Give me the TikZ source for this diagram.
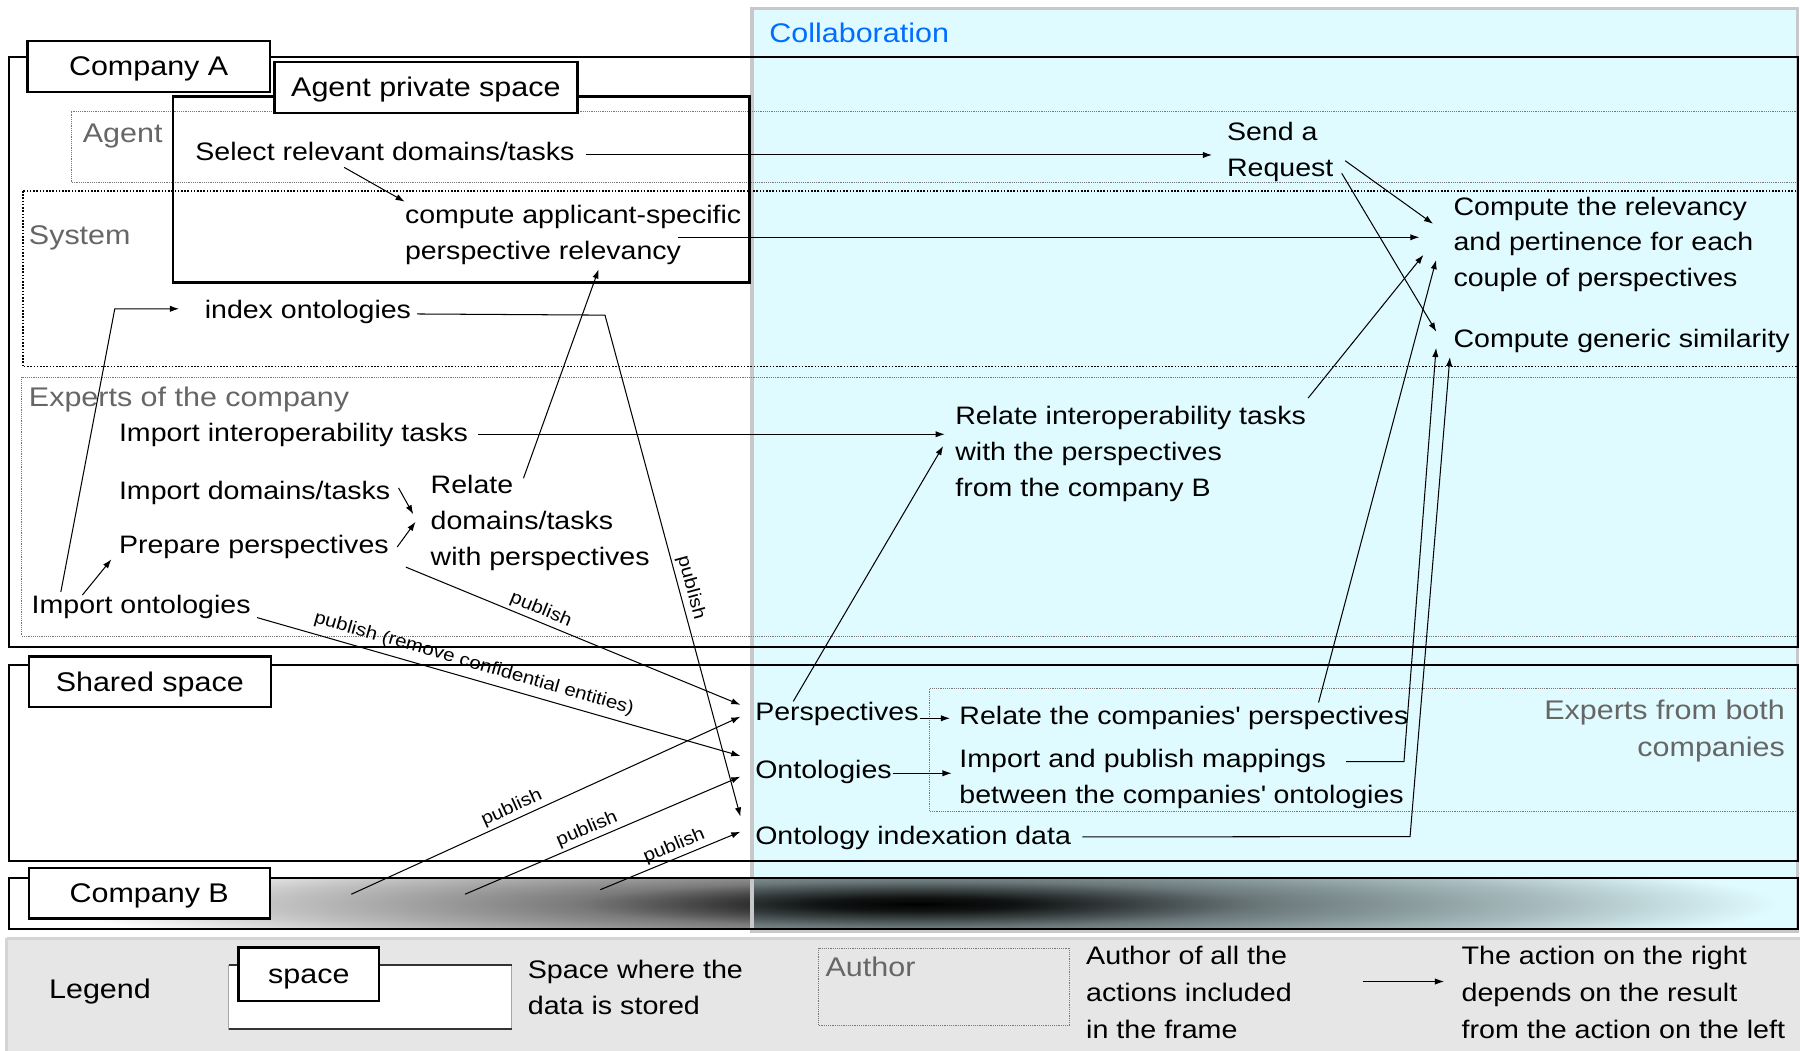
\documentclass[tikz,border=0pt]{standalone}
\usepackage{fontspec}
\setmainfont{Liberation Sans}[FakeStretch=1.13]
\usetikzlibrary{arrows.meta,calc}
\definecolor{collabfill}{RGB}{224,251,255}
\definecolor{collabedge}{RGB}{200,200,200}
\definecolor{labgray}{RGB}{102,102,102}
\definecolor{collabblue}{RGB}{0,110,255}
\definecolor{legfill}{RGB}{230,230,230}
\definecolor{legedge}{RGB}{212,212,212}
\definecolor{dotgray}{RGB}{120,120,120}
\pgfdeclareradialshading{blobW}{\pgfpointorigin}{color(0bp)=(black); color(3bp)=(black!92!white); color(6bp)=(black!75!white); color(10bp)=(black!52!white); color(18.6bp)=(black!24!white); color(25bp)=(white); color(50bp)=(white)}
\pgfdeclareradialshading{blobC}{\pgfpointorigin}{color(0bp)=(black); color(3bp)=(black!92!collabfill); color(6bp)=(black!75!collabfill); color(10bp)=(black!52!collabfill); color(18.6bp)=(black!24!collabfill); color(25bp)=(collabfill); color(50bp)=(collabfill)}
\newcommand\actfont{\fontsize{22}{31.3}\selectfont}
\newcommand\labfont{\fontsize{23.5}{32.4}\selectfont}
\newcommand\pubfont{\fontsize{15.75}{18}\selectfont}
\newcommand\legfont{\fontsize{22.1}{32}\selectfont}
\newcommand\ml[1]{\begin{tabular}[t]{@{}l@{}}#1\end{tabular}}
\newcommand\mr[1]{\begin{tabular}[t]{@{}r@{}}#1\end{tabular}}
\newcommand\sq{\XeTeXglyph\XeTeXcharglyph"0027\relax}
\begin{document}
\begin{tikzpicture}[x=1pt,y=-1pt,
  act/.style={anchor=base west, inner sep=0pt, font=\actfont},
  graylab/.style={anchor=base west, inner sep=0pt, font=\labfont, text=labgray},
  labbox/.style={draw, line width=2pt, fill=white, font=\labfont, inner sep=0pt, text height=16pt, text depth=0pt},
  frm/.style={draw, line width=1.6pt},
  lanefine/.style={draw=dotgray, line width=0.8pt, dash pattern=on 0.8pt off 0.8pt},
  lanesys/.style={draw=black, line width=1.4pt, dash pattern=on 1.4pt off 1.4pt},
  conn/.style={line width=0.9pt},
  arr/.style={conn, -{Latex[length=8pt,width=5.5pt]}},
  pub/.style={font=\pubfont, sloped, above, inner sep=2.5pt},
]
\useasboundingbox (0,0) rectangle (1568,915);
\fill[white] (0,0) rectangle (1568,915);
% collaboration area
\fill[collabfill] (655,7.3) rectangle (1566,811);
% gradient blob in Company B band
\begin{scope}
\clip (8,765) rectangle (655,809.5);
\shade[shading=blobW] (50,737.5) rectangle (1550,837.5);
\end{scope}
\begin{scope}
\clip (655,765) rectangle (1566,809.5);
\shade[shading=blobC] (50,737.5) rectangle (1550,837.5);
\end{scope}
\draw[collabedge, line width=3pt] (655,7.3) rectangle (1566,811);
% lanes
\draw[lanefine] (62,97.3) rectangle (1566,159.1);
\draw[lanesys] (19.8,166.4) rectangle (1566,319.4);
\draw[lanefine] (19,328.7) rectangle (1566,554);
\draw[lanefine] (810,600) rectangle (1566,707);
% frames
\draw[frm] (7.6,49.4) rectangle (1566,563.6);
\draw[frm] (7.6,579) rectangle (1566,749.7);
\draw[frm] (7.6,765) rectangle (1566,809.5);
\draw[line width=2.2pt] (150.7,84.2) rectangle (653,246.2);
% label boxes
\node[labbox, minimum width=211pt, minimum height=44.5pt] (compA) at (129.5,57.7) {Company A};
\node[labbox, minimum width=264pt, minimum height=44.5pt] (aps) at (371,76) {Agent private space};
\node[labbox, minimum width=211pt, minimum height=44pt] (shared) at (130.5,594) {Shared space};
\node[labbox, minimum width=210pt, minimum height=43.6pt] (compB) at (130,778.2) {Company B};
% lane labels
\node[graylab] (agentL) at (72,124.3) {Agent};
\node[graylab] (sysL) at (25,213.4) {System};
\node[graylab] (expL) at (25,354.2) {Experts of the company};
\node[graylab, anchor=base east] (bothL) at (1555,626.6) {\mr{Experts from both\\companies}};
\node[graylab, text=collabblue] (collabL) at (670,37.2) {Collaboration};
% actions
\node[act] (sel) at (170,139.4) {Select relevant domains/tasks};
\node[act] (comp) at (352.6,195) {\ml{compute applicant-specific\\perspective relevancy}};
\node[act] (idx) at (178.2,277.3) {index ontologies};
\node[act] (req) at (1068.7,122.5) {\ml{Send a\\Request}};
\node[act] (crel) at (1266,187.3) {\ml{Compute the relevancy\\and pertinence for each\\couple of perspectives}};
\node[act] (sim) at (1266,303) {Compute generic similarity};
\node[act] (impint) at (103.5,384.7) {Import interoperability tasks};
\node[act] (impd) at (103.5,435.5) {Import domains/tasks};
\node[act] (prep) at (103.5,482) {Prepare perspectives};
\node[act] (impo) at (27.4,534.8) {Import ontologies};
\node[act] (rel) at (375,430.3) {\ml{Relate\\domains/tasks\\with perspectives}};
\node[act] (relint) at (832,369.8) {\ml{Relate interoperability tasks\\with the perspectives\\from the company B}};
\node[act] (persp) at (657.7,627.7) {Perspectives};
\node[act] (onto) at (657.7,678.5) {Ontologies};
\node[act] (oidx) at (657.7,736) {Ontology indexation data};
\node[act] (relcomp) at (835.6,631) {Relate the companies\sq\ perspectives};
\node[act] (imppub) at (835.6,669) {\ml{Import and publish mappings\\between the companies\sq\ ontologies}};
% connectors
\draw[arr] ($(sel.base east)+(9.4,-4.4)$) -- ($(req.base west)+(-12.9,12.5)$);
\draw[arr] ($(sel.base west)+(129.8,6.4)$) -- ($(comp.base west)+(0,-19.3)$);
\draw[arr] ($(comp.base west)+(238.4,11.7)$) -- ($(crel.base west)+(-29.5,19.4)$);
\draw[arr] ($(req.base west)+(103.1,17.5)$) -- ($(crel.base west)+(-17.6,7.7)$);
\draw[arr] ($(req.base west)+(100.1,28.5)$) -- ($(sim.base west)+(-14.8,-14)$);
\draw[arr] ($(idx.base east)+(5,-3.8)$) -- ($(idx.base west)+(348.8,-2.8)$) -- node[pub, pos=0.55] {publish} ($(oidx.base west)+(-12.7,-24.6)$);
\draw[arr] ($(impo.base west)+(25.6,-19.2)$) -- ($(idx.base west)+(-78.2,-8.3)$) -- ($(idx.base west)+(-22.2,-8.3)$);
\draw[arr] ($(impo.base west)+(44.4,-16.5)$) -- ($(prep.base west)+(-6.4,5.2)$);
\draw[arr] ($(impd.base east)+(7,-10.5)$) -- ($(rel.base west)+(-15,17.7)$);
\draw[arr] ($(prep.base east)+(7.2,-5.5)$) -- ($(rel.base west)+(-13,24.2)$);
\draw[arr] ($(rel.base west)+(81,-13.7)$) -- ($(comp.base west)+(168.9,39.6)$);
\draw[arr] ($(prep.base east)+(14.7,12)$) -- node[pub, pos=0.39] {publish} ($(persp.base west)+(-12.7,-13.7)$);
\draw[arr] ($(impo.base east)+(5.5,3.2)$) -- node[pub, pos=0.44, above=3pt] {publish (remove confidential entities)} ($(onto.base west)+(-12.7,-20)$);
\coordinate (b1) at (306,779);
\coordinate (b2) at (405,779);
\coordinate (b3) at (523,775);
\draw[arr] (b1) -- node[pub, pos=0.425] {publish} ($(persp.base west)+(-12.7,-3.4)$);
\draw[arr] (b2) -- node[pub, pos=0.46] {publish} ($(onto.base west)+(-12.7,-2)$);
\draw[arr] (b3) -- node[pub, pos=0.56] {publish} ($(oidx.base west)+(-12.7,-11.5)$);
\draw[arr] ($(persp.base west)+(33.3,-16.7)$) -- ($(relint.base west)+(-10.4,18.7)$);
\draw[arr] ($(impint.base east)+(8.5,-6.4)$) -- ($(relint.base west)+(-9,8.5)$);
\draw[arr] ($(relint.base west)+(307.5,-23)$) -- ($(crel.base west)+(-26,34.7)$);
\draw[arr] ($(relcomp.base west)+(313,-19)$) -- ($(crel.base west)+(-15,39.2)$);
\draw[arr] ($(imppub.base west)+(336.9,-5.5)$) -- ($(imppub.base west)+(387.4,-5.5)$) -- ($(sim.base west)+(-15,0)$);
\draw[arr] ($(oidx.base east)+(9.8,-7)$) -- ($(oidx.base west)+(570.6,-7.2)$) -- ($(sim.base west)+(-3,8)$);
\draw[arr] ($(persp.base east)+(1,-2)$) -- ($(relcomp.base west)+(-8,-5.3)$);
\draw[arr] ($(onto.base east)+(1,-4.9)$) -- ($(imppub.base west)+(-6.6,4.6)$);
% legend
\fill[legfill] (6,817.5) rectangle (1568,917);
\draw[legedge, line width=2.5pt] (6,817.5) -- (1568,817.5);
\draw[legedge, line width=2.5pt] (6,917) -- (6,817.5);
\draw[fill=white, draw=gray!70] (199.2,840.6) rectangle (445.6,896.4);
\draw[line width=1.2pt, draw=black!80] (199.2,840.6) -- (445.6,840.6);
\draw[line width=1.2pt, draw=black!80] (199.2,896.4) -- (445.6,896.4);
\node[labbox, minimum width=122.6pt, minimum height=46.5pt] (spaceL) at (269,848.5) {space};
\node[graylab, text=black] (legL) at (42.6,869.5) {Legend};
\node[act, font=\legfont] (legspace) at (459.6,852) {\ml{Space where the\\data is stored}};
\draw[lanefine] (713,826) rectangle (932,893);
\node[graylab] (authL) at (719,850.5) {Author};
\node[act, font=\legfont] (legauth) at (946,840.5) {\ml{Author of all the\\actions included\\in the frame}};
\node[act, font=\legfont] (legact) at (1273,840.5) {\ml{The action on the right\\depends on the result\\from the action on the left}};
\draw[arr] ($(legact.base west)+(-86,14.5)$) -- ($(legact.base west)+(-15,14.5)$);
\end{tikzpicture}
\end{document}
